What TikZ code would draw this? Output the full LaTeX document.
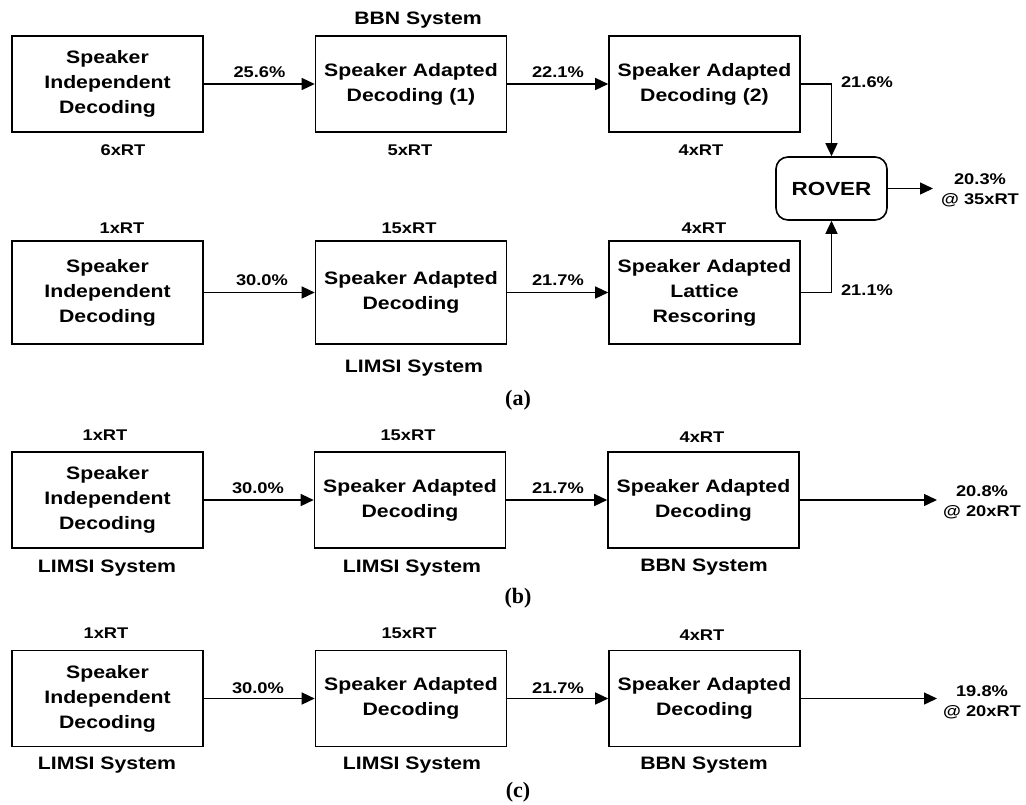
\documentclass[tikz,border=0pt]{standalone}
\usepackage{fontspec}
\newfontfamily\hv{Liberation Sans}[FakeStretch=1.18]
\newfontfamily\tm{Liberation Serif}
\usetikzlibrary{arrows.meta}
\begin{document}
\begin{tikzpicture}[x=1pt,y=-1pt,
  procbox/.style={draw,line width=1.6pt,minimum width=191pt,minimum height=96pt,inner sep=0pt,align=center,
    font=\hv\bfseries\fontsize{18}{25}\selectfont},
  tallbox/.style={procbox,minimum height=103pt},
  lab/.style={inner sep=0pt,align=center,font=\hv\bfseries\fontsize{15.5}{20}\selectfont},
  syslab/.style={inner sep=0pt,font=\hv\bfseries\fontsize{18}{22}\selectfont},
  panel/.style={inner sep=0pt,font=\tm\bfseries\fontsize{22}{24}\selectfont},
  arr/.style={line width=1.4pt,-{Triangle[length=13pt,width=12pt]}}]
\useasboundingbox (0,0) rectangle (1026,804);
% ---------- panel (a), top row ----------
\node[procbox] (a1) at (107.5,84) {Speaker\\Independent\\Decoding};
\node[procbox] (a2) at (411,84) {Speaker Adapted\\Decoding (1)};
\node[procbox] (a3) at (704.5,84) {Speaker Adapted\\Decoding (2)};
\node[syslab] (bbna) at (418,20) {BBN System};
\node[lab] (ta1) at (123,150) {6xRT};
\node[lab] (ta2) at (410,150) {5xRT};
\node[lab] (ta3) at (701,150) {4xRT};
\node[lab] (ea1) at (259.5,72) {25.6\%};
\node[lab] (ea2) at (558,72) {22.1\%};
\node[lab] (ea3) at (867,82) {21.6\%};
\node[draw,line width=1.6pt,rounded corners=12pt,minimum width=111pt,minimum height=63pt,inner sep=0pt,
  font=\hv\bfseries\fontsize{19}{22}\selectfont] (rover) at (831.5,188.5) {ROVER};
\coordinate (oa) at (933,188.5);
\node[lab] (ra) at (980,190) {20.3\%\\@ 35xRT};
% ---------- panel (a), bottom row ----------
\node[tallbox] (b1) at (107.5,292.5) {Speaker\\Independent\\Decoding};
\node[tallbox] (b2) at (411,292.5) {Speaker Adapted\\Decoding};
\node[tallbox] (b3) at (704.5,292.5) {Speaker Adapted\\Lattice\\Rescoring};
\node[lab] (tb1) at (122,228) {1xRT};
\node[lab] (tb2) at (409,228) {15xRT};
\node[lab] (tb3) at (704,228) {4xRT};
\node[lab] (eb1) at (262,280) {30.0\%};
\node[lab] (eb2) at (558,280) {21.7\%};
\node[lab] (eb3) at (867,290) {21.1\%};
\node[syslab] (limsia) at (414,368) {LIMSI System};
\node[panel] (pa) at (518,400) {(a)};
\draw[arr] (a1) -- (a2);
\draw[arr] (a2) -- (a3);
\draw[arr] (a3.east) -| (rover.north);
\draw[arr] (b1) -- (b2);
\draw[arr] (b2) -- (b3);
\draw[arr] (b3.east) -| (rover.south);
\draw[arr] (rover.east) -- (oa);
% ---------- panel (b) ----------
\node[procbox] (c1) at (107.5,500) {Speaker\\Independent\\Decoding};
\node[procbox] (c2) at (410,500) {Speaker Adapted\\Decoding};
\node[procbox] (c3) at (703.5,500) {Speaker Adapted\\Decoding};
\node[lab] (tc1) at (105,435) {1xRT};
\node[lab] (tc2) at (408,435) {15xRT};
\node[lab] (tc3) at (702,437) {4xRT};
\node[lab] (ec1) at (258,488) {30.0\%};
\node[lab] (ec2) at (558,488) {21.7\%};
\node[syslab] (sc1) at (107,568) {LIMSI System};
\node[syslab] (sc2) at (412,568) {LIMSI System};
\node[syslab] (sc3) at (704,567) {BBN System};
\coordinate (ob) at (937,500);
\node[lab] (rb) at (982,502) {20.8\%\\@ 20xRT};
\node[panel] (pb) at (518,598) {(b)};
\draw[arr] (c1) -- (c2);
\draw[arr] (c2) -- (c3);
\draw[arr] (c3) -- (ob);
% ---------- panel (c) ----------
\node[procbox] (d1) at (107.5,698.5) {Speaker\\Independent\\Decoding};
\node[procbox] (d2) at (411,698.5) {Speaker Adapted\\Decoding};
\node[procbox] (d3) at (704.5,698.5) {Speaker Adapted\\Decoding};
\node[lab] (td1) at (106,633) {1xRT};
\node[lab] (td2) at (409,633) {15xRT};
\node[lab] (td3) at (702,635) {4xRT};
\node[lab] (ed1) at (258,688) {30.0\%};
\node[lab] (ed2) at (558,688) {21.7\%};
\node[syslab] (sd1) at (107,765) {LIMSI System};
\node[syslab] (sd2) at (412,765) {LIMSI System};
\node[syslab] (sd3) at (704,765) {BBN System};
\coordinate (oc) at (937,698.5);
\node[lab] (rc) at (982,702) {19.8\%\\@ 20xRT};
\node[panel] (pc) at (518,792) {(c)};
\draw[arr] (d1) -- (d2);
\draw[arr] (d2) -- (d3);
\draw[arr] (d3) -- (oc);
\end{tikzpicture}
\end{document}
